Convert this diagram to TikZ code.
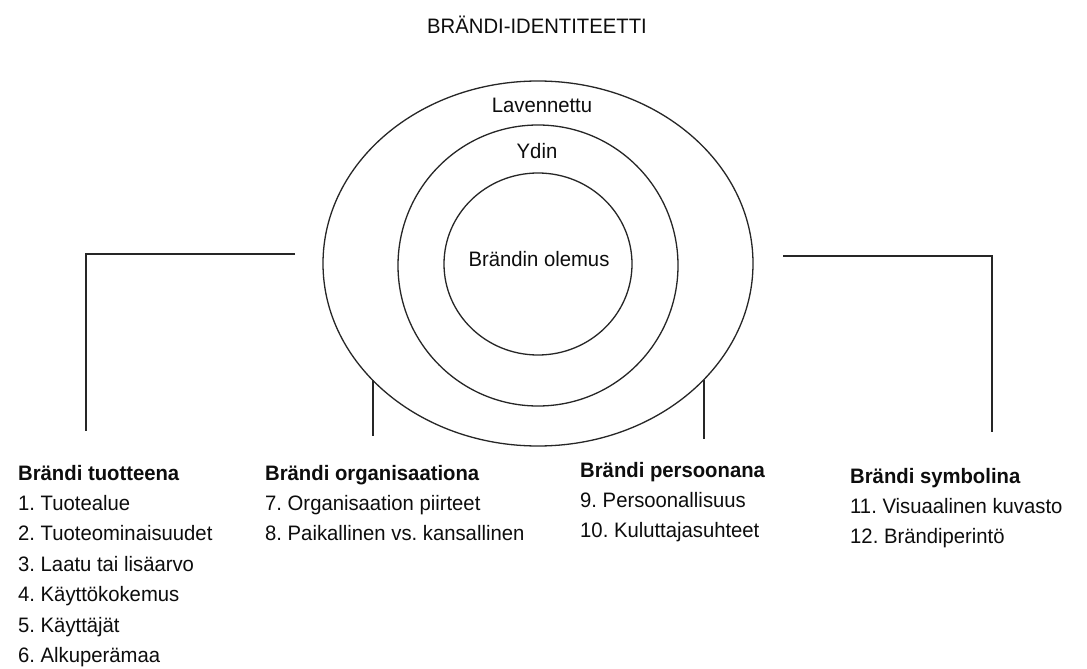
\documentclass[tikz,border=0pt]{standalone}
\usepackage{fontspec}
\setmainfont[FakeStretch=0.97]{Liberation Sans}
\usetikzlibrary{shapes.geometric}
\frenchspacing
\begin{document}
\begin{tikzpicture}[x=1pt,y=-1pt,
  ring/.style={ellipse, draw=black!85, line width=1.3pt, inner sep=0pt},
  wire/.style={draw=black!85, line width=1.4pt},
  lbl/.style={inner sep=0pt, font=\fontsize{20.9}{24}\selectfont, text=black!95},
  head/.style={lbl, font=\fontsize{20.9}{24}\selectfont\bfseries, anchor=base west},
  entry/.style={lbl, anchor=base west}]
\useasboundingbox (0,0) rectangle (1087,669);
\fill[white] (0,0) rectangle (1087,669);

% concentric identity rings
\node[ring, minimum width=430pt, minimum height=365pt] (outer) at (538,263.5) {};
\node[ring, minimum width=280pt, minimum height=281pt] (middle) at (538,265.5) {};
\node[ring, minimum width=188pt, minimum height=182pt] (inner) at (538,264) {};

% ring labels and title
\node[lbl, anchor=base] (title)  at (537,34)    {BRÄNDI-IDENTITEETTI};
\node[lbl, anchor=base] (lav)    at (542,112.5) {Lavennettu};
\node[lbl, anchor=base] (ydin)   at (537,158)   {Ydin};
\node[lbl, anchor=base] (olemus) at (539,266)   {Brändin olemus};

% four perspectives
\node[head] (h1) at (18,480) {Brändi tuotteena};
\foreach \t [count=\i] in {1. Tuotealue, 2. Tuoteominaisuudet, 3. Laatu tai lisäarvo,
    4. Käyttökokemus, 5. Käyttäjät, 6. Alkuperämaa}
  \node[entry] (a\i) at ({18},{480+30.4*\i}) {\t};

\node[head] (h2) at (265,480) {Brändi organisaationa};
\foreach \t [count=\i] in {7. Organisaation piirteet, 8. Paikallinen vs. kansallinen}
  \node[entry] (b\i) at ({265},{480+30.4*\i}) {\t};

\node[head] (h3) at (580,477) {Brändi persoonana};
\foreach \t [count=\i] in {9. Persoonallisuus, 10. Kuluttajasuhteet}
  \node[entry] (c\i) at ({580},{477+30.4*\i}) {\t};

\node[head] (h4) at (850,483) {Brändi symbolina};
\foreach \t [count=\i] in {11. Visuaalinen kuvasto, 12. Brändiperintö}
  \node[entry] (d\i) at ({850},{483+30.4*\i}) {\t};

% connectors
\coordinate (lfoot) at (373,436);
\coordinate (rfoot) at (704,439);
\draw[wire] (lfoot |- outer.215.34) -- (lfoot);
\draw[wire] (rfoot |- outer.325.03) -- (rfoot);

\coordinate (lbA) at (295,254);
\coordinate (lbB) at (86,254);
\coordinate (lbC) at (86,431);
\draw[wire] (lbA) -- (lbB) -- (lbC);

\coordinate (rbA) at (783,256);
\coordinate (rbB) at (992,256);
\coordinate (rbC) at (992,432);
\draw[wire] (rbA) -- (rbB) -- (rbC);
\end{tikzpicture}
\end{document}
